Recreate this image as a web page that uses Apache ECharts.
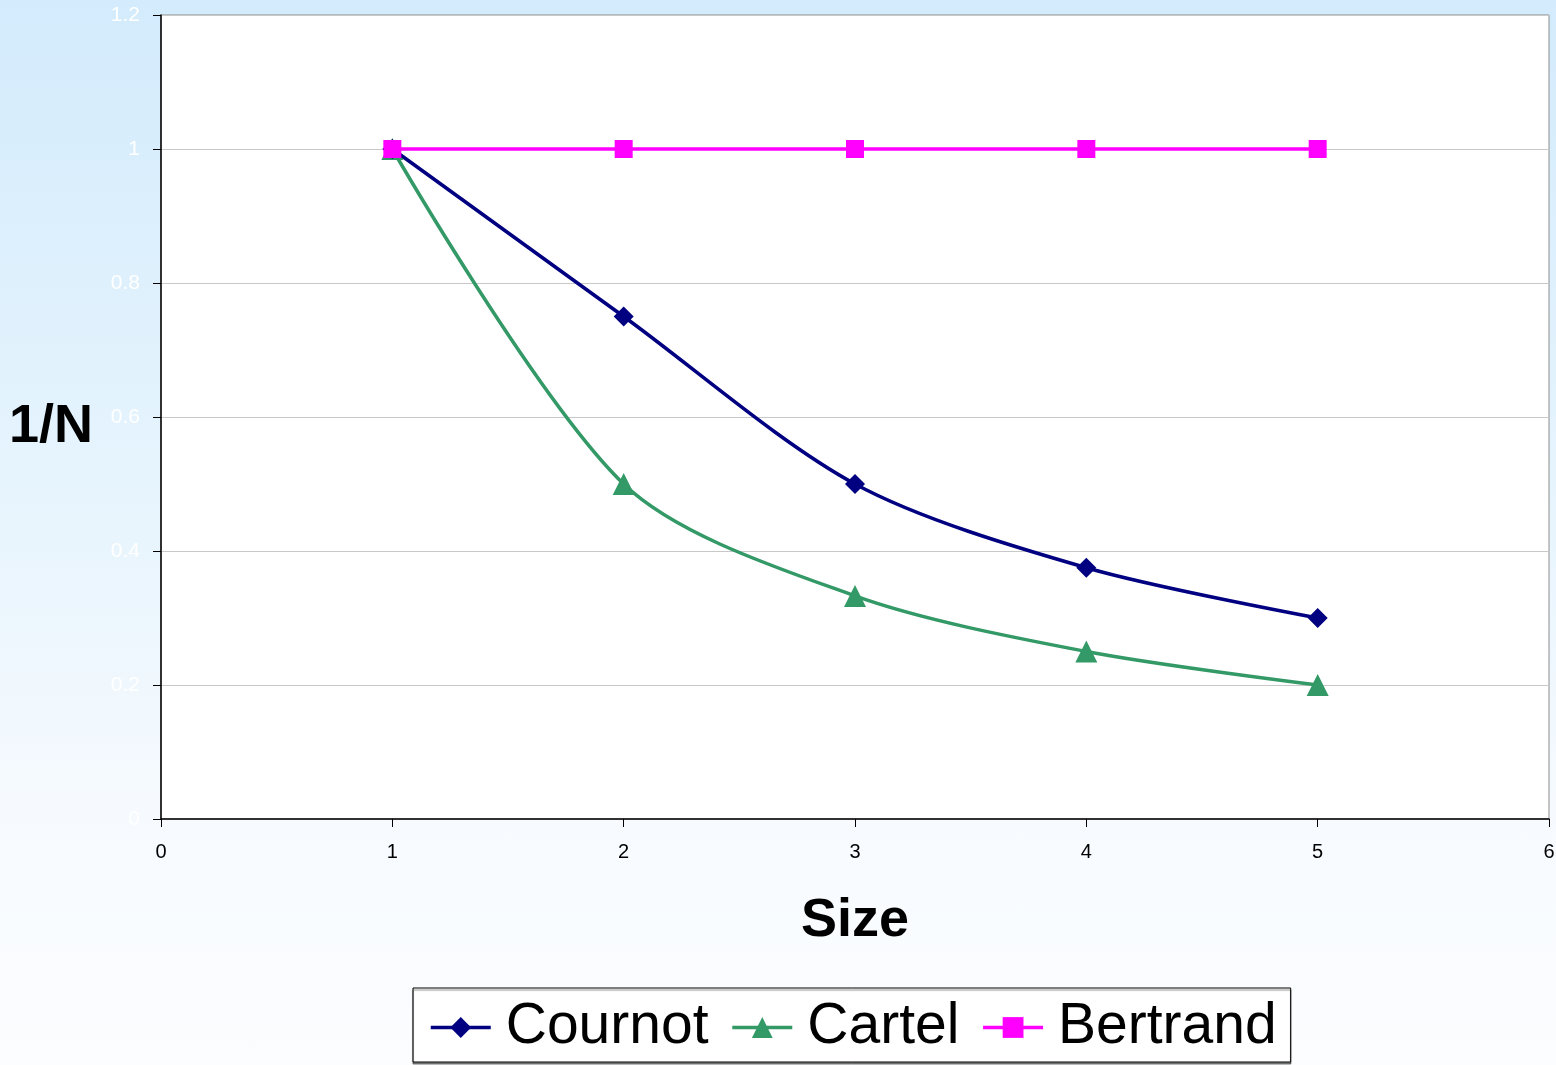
<!DOCTYPE html>
<html>
<head>
<meta charset="utf-8">
<title>1/N vs Size</title>
<script src="https://cdn.jsdelivr.net/npm/echarts@6/dist/echarts.min.js"></script>
<style>
  html, body { margin: 0; padding: 0; }
  #chart {
    width: 1556px;
    height: 1065px;
    background: linear-gradient(180deg, #d3ebfc 0%, #e6f4fd 45%, #f8fbff 80%, #fbfdff 100%);
  }
</style>
</head>
<body>
<div id="chart"></div>
<script>
// market size (number of firms) on x
const sizes = [1, 2, 3, 4, 5];
const cournot = [1, 0.75, 0.5, 0.375, 0.3];
const cartel = [1, 0.5, 0.333, 0.25, 0.2];
const bertrand = [1, 1, 1, 1, 1];

function pairs(ys) {
  return sizes.map((x, i) => [x, ys[i]]);
}

const chart = echarts.init(document.getElementById("chart"));

chart.setOption({
  backgroundColor: "transparent",
  animation: false,
  textStyle: { fontFamily: "Liberation Sans, Arial, sans-serif" },
  grid: {
    left: 161,
    right: 7,
    top: 15,
    bottom: 246,
    containLabel: false,
    outerBoundsMode: "none",
    show: true,
    backgroundColor: "#ffffff",
    borderColor: "#8c8c8c",
    borderWidth: 1,
  },
  legend: {
    left: 413,
    top: 988,
    padding: [11, 14, 6, 16],
    backgroundColor: "#ffffff",
    borderColor: "#000000",
    borderWidth: 1,
    shadowColor: "rgba(0,0,0,0.45)",
    shadowOffsetY: 2,
    shadowBlur: 1,
    itemWidth: 60,
    itemHeight: 26,
    itemGap: 22,
    lineStyle: { width: 3.5 },
    textStyle: { fontSize: 57, color: "#000", padding: [0, 0, 0, 10] },
    data: ["Cournot", "Cartel", "Bertrand"],
  },
  xAxis: {
    type: "value",
    min: 0,
    max: 6,
    interval: 1,
    name: "Size",
    nameLocation: "middle",
    nameGap: 75,
    nameTextStyle: { fontSize: 54, fontWeight: "bold", color: "#000" },
    axisLine: { show: true, lineStyle: { color: "#000", width: 1.5 } },
    axisTick: { show: true, length: 8, lineStyle: { color: "#000" } },
    axisLabel: { fontSize: 20, color: "#000", margin: 23 },
    splitLine: { show: false },
  },
  yAxis: {
    type: "value",
    min: 0,
    max: 1.2,
    interval: 0.2,
    name: "1/N",
    nameLocation: "middle",
    nameRotate: 0,
    nameGap: 68,
    nameTextStyle: { fontSize: 54, fontWeight: "bold", color: "#000", verticalAlign: "top", lineHeight: 20 },
    axisLine: { show: true, lineStyle: { color: "#000", width: 1.5 } },
    axisTick: { show: true, length: 8, lineStyle: { color: "#000" } },
    axisLabel: { fontSize: 21, color: "#ffffff", margin: 21 },
    splitLine: { show: true, lineStyle: { color: "#c8c8c8", width: 1 } },
  },
  series: [
    {
      name: "Cournot",
      type: "line",
      data: pairs(cournot),
      smooth: 0.3,
      symbol: "diamond",
      symbolSize: 20,
      lineStyle: { color: "#000080", width: 3.5 },
      itemStyle: { color: "#000080" },
      z: 3,
    },
    {
      name: "Cartel",
      type: "line",
      data: pairs(cartel),
      smooth: 0.3,
      symbol: "triangle",
      symbolSize: 22,
      lineStyle: { color: "#339966", width: 3.5 },
      itemStyle: { color: "#339966" },
      z: 2,
    },
    {
      name: "Bertrand",
      type: "line",
      data: pairs(bertrand),
      symbol: "rect",
      symbolSize: 18,
      lineStyle: { color: "#ff00ff", width: 3.5 },
      itemStyle: { color: "#ff00ff" },
      z: 4,
    },
  ],
});
</script>
</body>
</html>
